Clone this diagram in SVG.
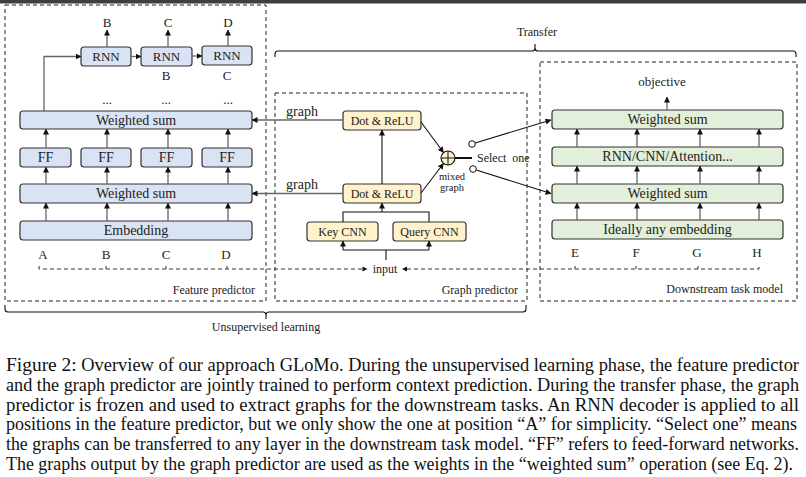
<svg xmlns="http://www.w3.org/2000/svg" width="806" height="477" viewBox="0 0 806 477">
<defs>
<marker id="ah" viewBox="0 0 6 6" refX="5.5" refY="3" markerWidth="6" markerHeight="6" markerUnits="userSpaceOnUse" orient="auto">
<path d="M0,0 L6,3 L0,6 z" fill="#111"/>
</marker>
<style>
.t{font-family:"Liberation Serif","Times New Roman",serif;fill:#222;text-anchor:middle}
.b14{font-size:14px}
.b13{font-size:13px}
.b12{font-size:12px}
.b10{font-size:10.5px}
.fb{fill:#dae3f3;stroke:#333;stroke-width:1.2}
.yb{fill:#fff2cc;stroke:#333;stroke-width:1.2}
.gb{fill:#e2efda;stroke:#333;stroke-width:1.2}
.dash{fill:none;stroke:#222;stroke-width:1;stroke-dasharray:4,3}
.ga{stroke:#666;stroke-width:1.3;fill:none;marker-end:url(#ah)}
.ka{stroke:#111;stroke-width:1.1;fill:none;marker-end:url(#ah)}
.kl{stroke:#111;stroke-width:1.1;fill:none}
.cap{font-family:"Liberation Serif","Times New Roman",serif;font-size:18px;fill:#111}
</style>
</defs>
<rect x="0" y="0" width="806" height="477" fill="#fff"/>
<rect x="0" y="0" width="806" height="3.5" fill="#3c3f41"/>

<!-- containers -->
<g id="feature-predictor">
<rect class="dash" x="5" y="5" width="261" height="296"/>
<text class="t b12" x="255" y="294" style="text-anchor:end">Feature predictor</text>
</g>
<g id="graph-predictor">
<rect class="dash" x="275" y="93" width="252" height="208"/>
<text class="t b12" x="518" y="294" style="text-anchor:end">Graph predictor</text>
</g>
<g id="downstream-model">
<rect class="dash" x="540" y="62" width="257" height="239"/>
<text class="t b12" x="783" y="293" style="text-anchor:end">Downstream task model</text>
</g>

<!-- braces -->
<g id="transfer-brace">
<path d="M275,57 V54 Q275,51 278,51 H532 Q535,51 535,48 V44 M535,48 Q535,51 538,51 H793 Q796,51 796,54 V57" fill="none" stroke="#111" stroke-width="1.1"/>
<text class="t b12" x="537" y="36">Transfer</text>
</g>
<g id="unsupervised-brace">
<path d="M5,305 V309 Q5,312 8,312 H263 Q266,312 266,315 V319 M266,315 Q266,312 269,312 H523 Q526,312 526,309 V305" fill="none" stroke="#111" stroke-width="1.1"/>
<text class="t b12" x="266" y="331">Unsupervised learning</text>
</g>

<!-- feature predictor nodes -->
<g id="rnn1"><rect class="fb" x="81" y="47" width="50" height="19" rx="3"/><text class="t b13" x="106" y="61">RNN</text></g>
<g id="rnn2"><rect class="fb" x="141" y="47" width="51" height="19" rx="3"/><text class="t b13" x="166.5" y="61">RNN</text></g>
<g id="rnn3"><rect class="fb" x="202" y="46" width="50" height="19" rx="3"/><text class="t b13" x="227" y="60">RNN</text></g>
<g id="ws1"><rect class="fb" x="20" y="111" width="232" height="18" rx="3"/><text class="t b14" x="136" y="125">Weighted sum</text></g>
<g id="ff1"><rect class="fb" x="20" y="148" width="51" height="19" rx="3"/><text class="t b14" x="45.5" y="162">FF</text></g>
<g id="ff2"><rect class="fb" x="81" y="148" width="50" height="19" rx="3"/><text class="t b14" x="106" y="162">FF</text></g>
<g id="ff3"><rect class="fb" x="141" y="148" width="51" height="19" rx="3"/><text class="t b14" x="166.5" y="162">FF</text></g>
<g id="ff4"><rect class="fb" x="202" y="148" width="50" height="19" rx="3"/><text class="t b14" x="227" y="162">FF</text></g>
<g id="ws2"><rect class="fb" x="20" y="184" width="232" height="19" rx="3"/><text class="t b14" x="136" y="198">Weighted sum</text></g>
<g id="embedding"><rect class="fb" x="20" y="221" width="232" height="19" rx="3"/><text class="t b14" x="136" y="235">Embedding</text></g>

<g id="feature-labels">
<text class="t b13" x="107" y="27">B</text>
<text class="t b13" x="168" y="27">C</text>
<text class="t b13" x="228" y="27">D</text>
<text class="t b13" x="166" y="80">B</text>
<text class="t b13" x="227" y="80">C</text>
<text class="t b13" x="107" y="104">...</text>
<text class="t b13" x="166" y="104">...</text>
<text class="t b13" x="228" y="104">...</text>
<text class="t b13" x="43" y="259">A</text>
<text class="t b13" x="106" y="259">B</text>
<text class="t b13" x="166" y="259">C</text>
<text class="t b13" x="226" y="259">D</text>
</g>

<!-- graph predictor nodes -->
<g id="dot-relu-top"><rect class="yb" x="343" y="111" width="78" height="19" rx="3"/><text class="t b12" x="382" y="124.5">Dot &amp; ReLU</text></g>
<g id="dot-relu-bottom"><rect class="yb" x="343" y="184" width="78" height="19" rx="3"/><text class="t b12" x="382" y="197.5">Dot &amp; ReLU</text></g>
<g id="key-cnn"><rect class="yb" x="307" y="222" width="71" height="19" rx="3"/><text class="t b12" x="342.5" y="235.5">Key CNN</text></g>
<g id="query-cnn"><rect class="yb" x="393" y="222" width="73" height="19" rx="3"/><text class="t b12" x="429.5" y="235.5">Query CNN</text></g>
<g id="mix">
<circle cx="448" cy="158" r="7" fill="#fff2cc" stroke="#111" stroke-width="1.1"/>
<path d="M441,158 H455 M448,151 V165" stroke="#111" stroke-width="1"/>
</g>
<g id="select-one">
<circle cx="472" cy="144" r="3.3" fill="#fff" stroke="#111" stroke-width="1"/>
<circle cx="473" cy="169" r="3.3" fill="#fff" stroke="#111" stroke-width="1"/>
<text class="t b12" x="477" y="162" style="text-anchor:start" xml:space="preserve">Select  one</text>
</g>
<g id="graph-labels">
<text class="t b14" x="302" y="116">graph</text>
<text class="t b14" x="302" y="189">graph</text>
<text class="t b10" x="452" y="180">mixed</text>
<text class="t b10" x="452" y="191">graph</text>
<text class="t b12" x="385" y="273">input</text>
</g>

<!-- downstream nodes -->
<g id="ds-ws1"><rect class="gb" x="552" y="110" width="231" height="19" rx="3"/><text class="t b14" x="667.5" y="124">Weighted sum</text></g>
<g id="ds-rnn"><rect class="gb" x="552" y="147" width="231" height="19" rx="3"/><text class="t b14" x="667.5" y="161">RNN/CNN/Attention...</text></g>
<g id="ds-ws2"><rect class="gb" x="552" y="184" width="231" height="19" rx="3"/><text class="t b14" x="667.5" y="198">Weighted sum</text></g>
<g id="ds-embed"><rect class="gb" x="552" y="220" width="231" height="19" rx="3"/><text class="t b14" x="667.5" y="234">Ideally any embedding</text></g>
<g id="ds-labels">
<text class="t b13" x="662" y="86">objective</text>
<text class="t b13" x="575" y="257">E</text>
<text class="t b13" x="636" y="257">F</text>
<text class="t b13" x="697" y="257">G</text>
<text class="t b13" x="757" y="257">H</text>
</g>

<!-- connectors -->
<g id="connectors">
<line class="ga" x1="107" y1="47" x2="107" y2="30"/>
<line class="ga" x1="168" y1="47" x2="168" y2="30"/>
<line class="ga" x1="228" y1="46" x2="228" y2="30"/>
<line class="ga" x1="131" y1="56.5" x2="141" y2="56.5"/>
<line class="ga" x1="192" y1="56" x2="202" y2="56"/>
<path class="ga" d="M44,111 V56.5 H81"/>
<line class="ga" x1="46" y1="148" x2="46" y2="129"/>
<line class="ga" x1="107" y1="148" x2="107" y2="129"/>
<line class="ga" x1="168" y1="148" x2="168" y2="129"/>
<line class="ga" x1="228" y1="148" x2="228" y2="129"/>
<line class="ga" x1="46" y1="184" x2="46" y2="167"/>
<line class="ga" x1="107" y1="184" x2="107" y2="167"/>
<line class="ga" x1="168" y1="184" x2="168" y2="167"/>
<line class="ga" x1="228" y1="184" x2="228" y2="167"/>
<line class="ga" x1="46" y1="221" x2="46" y2="203"/>
<line class="ga" x1="107" y1="221" x2="107" y2="203"/>
<line class="ga" x1="168" y1="221" x2="168" y2="203"/>
<line class="ga" x1="228" y1="221" x2="228" y2="203"/>
<line class="ga" x1="343" y1="120" x2="252" y2="120"/>
<line class="ga" x1="343" y1="193.5" x2="252" y2="193.5"/>
<line class="ka" x1="382" y1="184" x2="382" y2="130"/>
<path class="kl" d="M343,222 V212 H429 V222"/>
<line class="ka" x1="382" y1="212" x2="382" y2="203"/>
<path class="kl" d="M386,260 V250 M343,250 H429"/>
<line class="ka" x1="343" y1="250" x2="343" y2="241"/>
<line class="ka" x1="429" y1="250" x2="429" y2="241"/>
<line class="ka" x1="421" y1="122" x2="443.5" y2="152.5"/>
<line class="ka" x1="421" y1="193" x2="443.5" y2="163.5"/>
<line x1="455" y1="158" x2="472" y2="158" stroke="#111" stroke-width="2"/>
<line class="ka" x1="475.2" y1="143" x2="551" y2="120"/>
<line class="ka" x1="476.2" y1="170" x2="551" y2="193.5"/>
<path d="M39,266 V269 H362 M106,266 V269 M166,266 V269 M227,266 V269" fill="none" stroke="#333" stroke-width="1" stroke-dasharray="4,3"/>
<path d="M362.5,266.5 L367.5,269 L362.5,271.5 z" fill="#111"/>
<path d="M407,269 H759 V266 M575,266 V269 M636,266 V269 M698,266 V269" fill="none" stroke="#333" stroke-width="1" stroke-dasharray="4,3"/>
<path d="M407,266.5 L402,269 L407,271.5 z" fill="#111"/>
<line class="ga" x1="667" y1="110" x2="667" y2="97"/>
<line class="ga" x1="577" y1="147" x2="577" y2="129"/>
<line class="ga" x1="637" y1="147" x2="637" y2="129"/>
<line class="ga" x1="700" y1="147" x2="700" y2="129"/>
<line class="ga" x1="759" y1="147" x2="759" y2="129"/>
<line class="ga" x1="577" y1="184" x2="577" y2="166"/>
<line class="ga" x1="637" y1="184" x2="637" y2="166"/>
<line class="ga" x1="700" y1="184" x2="700" y2="166"/>
<line class="ga" x1="759" y1="184" x2="759" y2="166"/>
<line class="ga" x1="577" y1="220" x2="577" y2="203"/>
<line class="ga" x1="637" y1="220" x2="637" y2="203"/>
<line class="ga" x1="700" y1="220" x2="700" y2="203"/>
<line class="ga" x1="759" y1="220" x2="759" y2="203"/>
</g>

<!-- caption -->
<g id="caption">
<text class="cap" x="6" y="371" textLength="793" lengthAdjust="spacingAndGlyphs"><tspan font-size="19">Figure 2:</tspan> Overview of our approach GLoMo. During the unsupervised learning phase, the feature predictor</text>
<text class="cap" x="6" y="390.8" textLength="793" lengthAdjust="spacingAndGlyphs">and the graph predictor are jointly trained to perform context prediction. During the transfer phase, the graph</text>
<text class="cap" x="6" y="410.6" textLength="793" lengthAdjust="spacingAndGlyphs">predictor is frozen and used to extract graphs for the downstream tasks.  An RNN decoder is applied to all</text>
<text class="cap" x="6" y="430.4" textLength="791" lengthAdjust="spacingAndGlyphs">positions in the feature predictor, but we only show the one at position “A” for simplicity. “Select one” means</text>
<text class="cap" x="6" y="450.2" textLength="793" lengthAdjust="spacingAndGlyphs">the graphs can be transferred to any layer in the downstream task model. “FF” refers to feed-forward networks.</text>
<text class="cap" x="6" y="470" textLength="787" lengthAdjust="spacingAndGlyphs">The graphs output by the graph predictor are used as the weights in the “weighted sum” operation (see Eq. 2).</text>
</g>
</svg>
